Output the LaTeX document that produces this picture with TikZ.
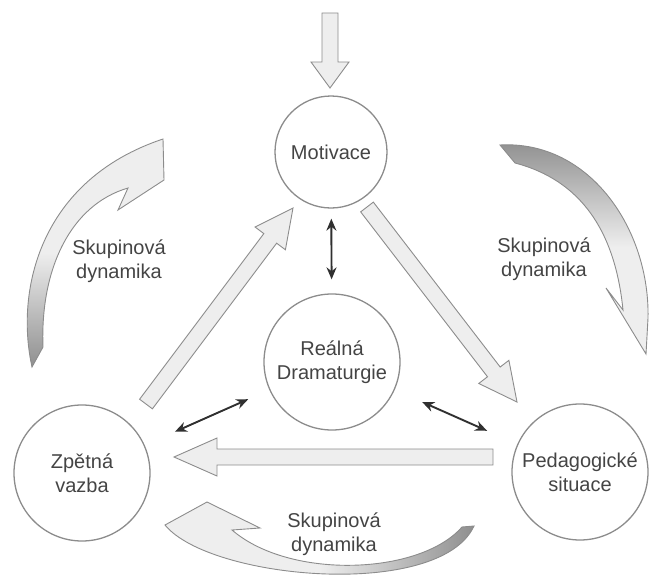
\documentclass[tikz,border=0pt]{standalone}
\usepackage{fontspec}
\setmainfont{Liberation Sans}
\usepackage{tikz}
\usetikzlibrary{arrows.meta,calc}
\definecolor{rimgray}{HTML}{8C8C8C}
\definecolor{inkgray}{HTML}{444444}
\definecolor{palegray}{HTML}{EEEEEE}
\definecolor{tailgray}{HTML}{8F8F8F}
\definecolor{tipdark}{HTML}{303030}
\tikzset{
  stagecircle/.style={
    circle,
    draw=rimgray,
    line width=1.3pt,
    minimum size=136pt,
    inner sep=0pt,
    align=center,
    text=inkgray,
    font=\fontsize{20}{24}\selectfont
  },
  groupnote/.style={align=center, text=inkgray, font=\fontsize{20}{24}\selectfont},
  fatbody/.style={draw=rimgray, line width=0.9pt, fill=palegray, line join=miter},
  swirl/.style={draw=rimgray, line width=0.9pt, line join=miter},
  linkflow/.style={{Stealth[length=12pt,width=10pt]}-{Stealth[length=12pt,width=10pt]}, line width=1.9pt, draw=tipdark}
}
\newcommand{\barhalf}{8pt}
\newcommand{\headhalf}{19pt}
% block arrow from tail (#2) to tip (#3), head length #1
\newcommand{\fatarrow}[3][38pt]{%
  \coordinate (fa-base) at ($(#3)!#1!(#2)$);
  \draw[fatbody] ($(#2)!\barhalf!90:(#3)$)
    -- ($(fa-base)!\barhalf!-90:(#2)$)
    -- ($(fa-base)!\headhalf!-90:(#2)$)
    -- (#3)
    -- ($(fa-base)!\headhalf!90:(#2)$)
    -- ($(fa-base)!\barhalf!90:(#2)$)
    -- ($(#2)!\barhalf!-90:(#3)$)
    -- cycle;}

\begin{document}
\begin{tikzpicture}[x=1pt, y=-1pt]
\useasboundingbox (0,0) rectangle (650,578);
\clip (0,0) rectangle (650,578);

% circles
\node[stagecircle, minimum size=112pt] (motiv) at (331,152) {Motivace};
\node[stagecircle] (drama) at (332,362) {Reálná\\Dramaturgie};
\node[stagecircle] (zpetna) at (82,473) {Zpětná\\vazba};
\node[stagecircle] (pedag) at (580,472) {Pedagogické\\situace};

% block arrows
\coordinate (inTail) at (330,13);
\coordinate (inTip) at (330,88);
\fatarrow[26pt]{inTail}{inTip}
\coordinate (fbTail) at (146,404);
\coordinate (fbTip) at (293,208);
\fatarrow{fbTail}{fbTip}
\coordinate (mvTail) at (367,207);
\coordinate (mvTip) at (517,402);
\fatarrow{mvTail}{mvTip}
\coordinate (psTail) at (493,457);
\coordinate (psTip) at (174,457);
\fatarrow[43pt]{psTail}{psTip}

% curved group arrows
\draw[swirl, top color=palegray, bottom color=tailgray, middle color=palegray]
  (163,139) -- (164,180) -- (118,210) -- (128,188)
  .. controls (70,205) and (40,270) .. (43,347)
  -- (32,367)
  .. controls (15,290) and (40,180) .. (163,139) -- cycle;
\draw[swirl, top color=tailgray, bottom color=palegray, middle color=palegray]
  (500,145) .. controls (590,140) and (650,230) .. (648,318)
  -- (646,354) -- (606,288) -- (623,310)
  .. controls (615,230) and (580,180) .. (515,163) -- cycle;
\draw[swirl, left color=palegray, right color=tailgray, middle color=palegray]
  (165,525) -- (207,502) -- (260,528) -- (232,530)
  .. controls (290,580) and (420,575) .. (462,527)
  -- (474,526)
  .. controls (440,600) and (210,580) .. (165,525) -- cycle;

\node[groupnote] (grpL) at (119,261) {Skupinová\\dynamika};
\node[groupnote] (grpR) at (544,259) {Skupinová\\dynamika};
\node[groupnote] (grpB) at (334,534) {Skupinová\\dynamika};

% two-way links
\draw[linkflow, shorten <=10pt, shorten >=14pt] (motiv) -- (drama);
\draw[linkflow, shorten <=33pt, shorten >=23pt] (zpetna) -- (drama);
\draw[linkflow, shorten <=30pt, shorten >=33pt] (drama) -- (pedag);
\end{tikzpicture}
\end{document}
